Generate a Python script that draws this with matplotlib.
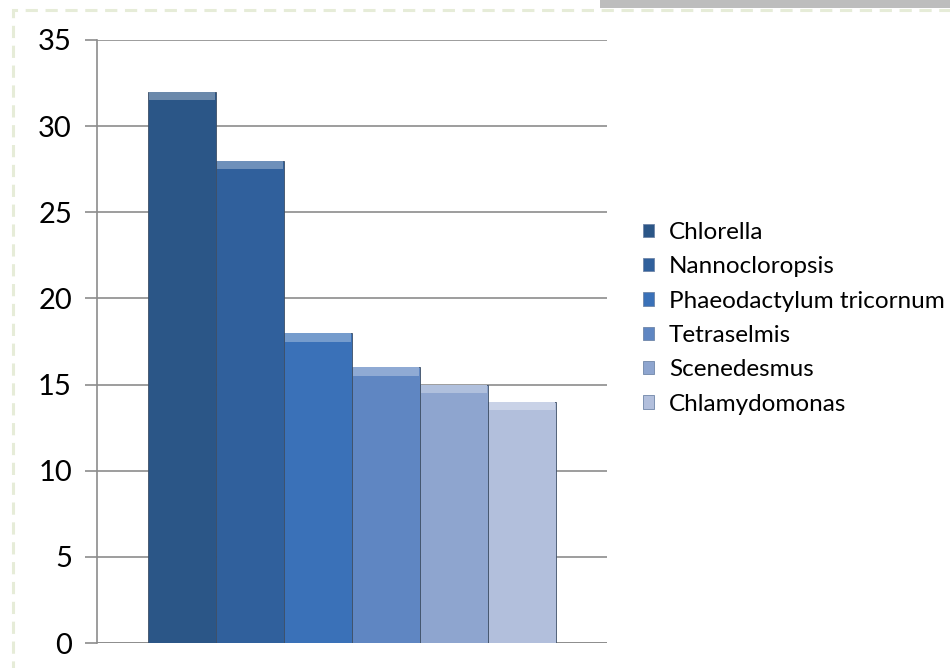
import matplotlib.pyplot as plt
import matplotlib.colors as mcolors
from matplotlib.patches import Rectangle

# Datos del grafico
species = ["Chlorella", "Nannocloropsis", "Phaeodactylum tricornum",
           "Tetraselmis", "Scenedesmus", "Chlamydomonas"]
values = [32, 28, 18, 16, 15, 14]
colors = ["#2b5687", "#30609c", "#3a71b8", "#5f86c2", "#8ea5cf", "#b2bfdc"]
y_ticks = [0, 5, 10, 15, 20, 25, 30, 35]

plt.rcParams['font.family'] = ['Lato', 'DejaVu Sans']


def lighten(c, f):
    r, g, b = mcolors.to_rgb(c)
    return (r + (1 - r) * f, g + (1 - g) * f, b + (1 - b) * f)


fig = plt.figure(figsize=(9.5, 6.68), dpi=100)
ax = fig.add_axes([97 / 950, 1 - 643 / 668, 510 / 950, 603 / 668])

# Marco decorativo punteado
fig.patches.append(Rectangle((13 / 950, -0.1), 1.2, 1 - 10 / 668 + 0.1,
                             transform=fig.transFigure, fill=False,
                             edgecolor="#e6ecd8", linewidth=2.2,
                             linestyle=(0, (4, 2.5)), zorder=0))
# Franja gris superior
fig.patches.append(Rectangle((600 / 950, 1 - 8 / 668), 0.5, 8 / 668,
                             transform=fig.transFigure, color="#bdbdbd",
                             linewidth=0, zorder=0))

for i, (name, val, col) in enumerate(zip(species, values, colors)):
    ax.bar(i, val, width=1.0, color=col, edgecolor="#3d4f66",
           linewidth=0.6, label=name, zorder=3)
    # brillo superior (bisel)
    ax.bar(i, 0.5, bottom=val - 0.5, width=0.96, color=lighten(col, 0.3),
           linewidth=0, zorder=4)

ax.set_xlim(-1.25, 6.25)
ax.set_ylim(0, 35)
ax.set_yticks(y_ticks)
ax.set_xticks([])
ax.grid(axis='y', color="#8c8c8c", linewidth=1.2, zorder=0)
for side in ["top", "right", "bottom"]:
    ax.spines[side].set_visible(False)
ax.spines["left"].set_color("#8c8c8c")
ax.spines["left"].set_linewidth(1.2)
ax.tick_params(axis='y', length=9, width=1.2, color="#8c8c8c",
               labelsize=21, pad=9)
ax.axhline(0, color="#8c8c8c", linewidth=1.2, zorder=1)

handles, labels = ax.get_legend_handles_labels()
leg = fig.legend(handles, labels, loc="upper left",
                 bbox_to_anchor=(621 / 950, 1 - 200 / 668),
                 frameon=False, fontsize=17.5, handlelength=0.47,
                 handleheight=0.47, handletextpad=0.6, labelspacing=0.55)
for h in leg.legend_handles:
    h.set_edgecolor("#6f86a8")

fig.savefig("out.png", dpi=100)
